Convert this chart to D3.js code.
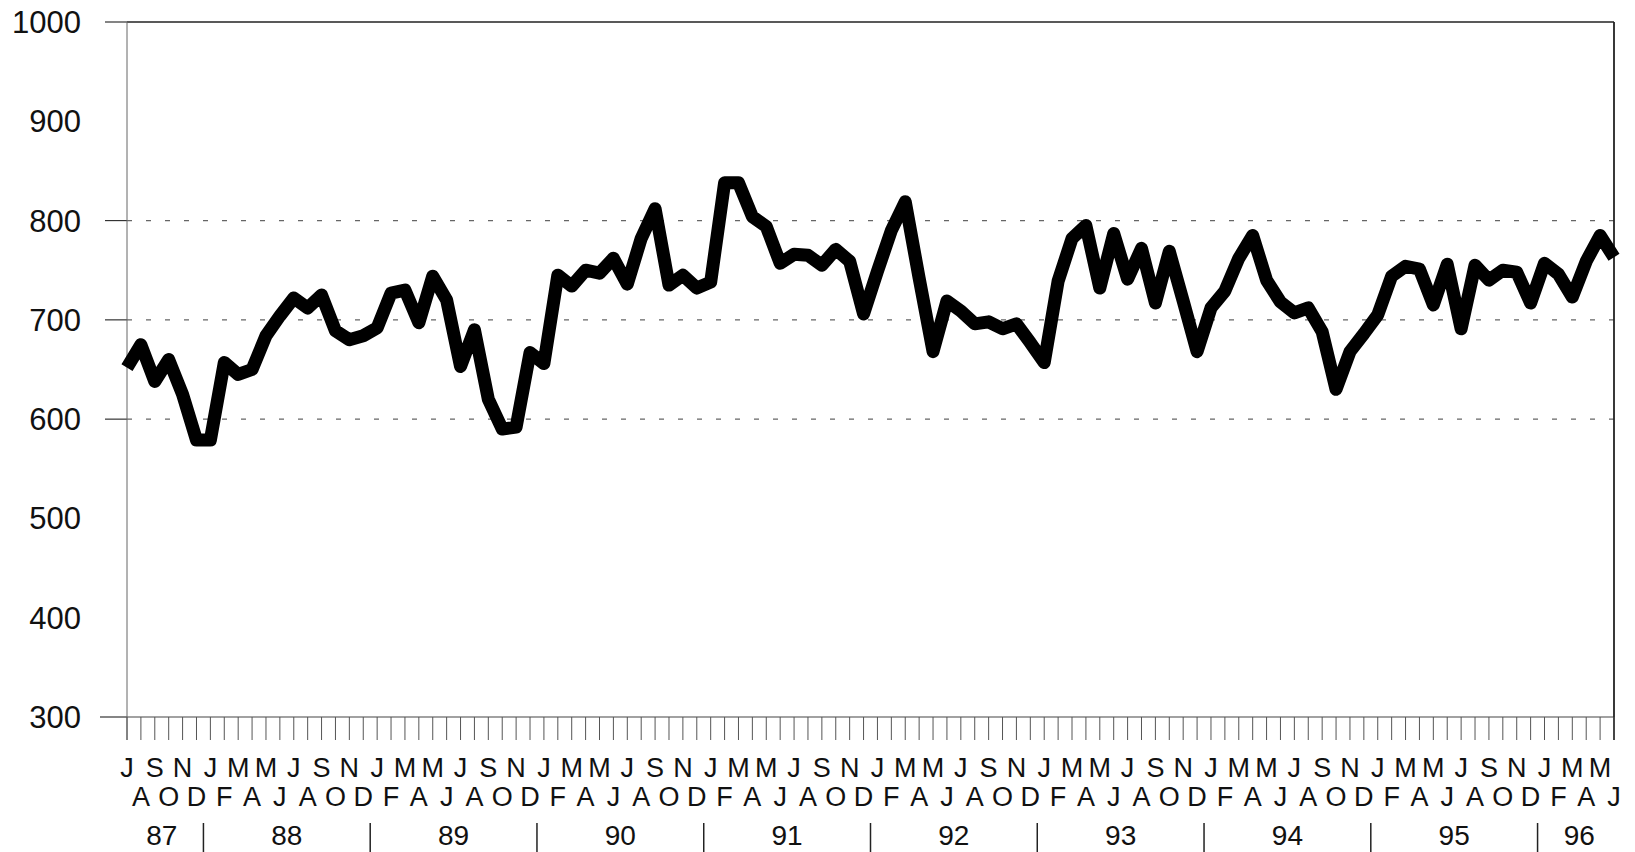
<!DOCTYPE html>
<meta charset="utf-8">
<style>
body { margin: 0; background: #fff; }
svg { display: block; }
text { font-family: "Liberation Sans", Arial, Helvetica, sans-serif; fill: #111; }
</style>
<svg width="1635" height="852"></svg>
<script src="https://d3js.org/d3.v7.min.js"></script>
<script>

// monthly values, Jul 1987 .. Jun 1996
var values = [
  652, 675, 638, 660, 625, 579,                                   // 87
  579, 657, 645, 650, 684, 704, 722, 712, 725, 689, 680, 684,    // 88
  692, 727, 730, 697, 744, 720, 653, 690, 620, 590, 592, 667,    // 89
  656, 745, 734, 750, 747, 762, 736, 782, 812, 735, 745, 732,    // 90
  738, 838, 838, 804, 794, 757, 766, 765, 755, 771, 759, 706,    // 91
  749, 790, 819, 742, 668, 719, 709, 696, 698, 691, 696, 677,    // 92
  657, 739, 782, 795, 732, 787, 741, 772, 717, 769, 719, 668,    // 93
  712, 729, 762, 785, 740, 718, 707, 712, 688, 630, 668, 686,    // 94
  705, 744, 754, 751, 715, 756, 691, 755, 740, 750, 748, 717,    // 95
  757, 746, 723, 759, 785, 763                                    // 96
];

var monthLetters = ["J","F","M","A","M","J","J","A","S","O","N","D"];
var startMonth = 6; // July
var years = ["87","88","89","90","91","92","93","94","95","96"];
var yTicks = [300, 400, 500, 600, 700, 800, 900, 1000];
var gridValues = [600, 700, 800];

var svg = d3.select("svg");

var x = d3.scaleLinear().domain([0, values.length - 1]).range([127, 1614]);
var y = d3.scaleLinear().domain([300, 1000]).range([717, 22]);

// dashed gridlines
svg.append("g").selectAll("line")
  .data(gridValues)
  .enter().append("line")
    .attr("x1", x(0)).attr("x2", x(values.length - 1))
    .attr("y1", function(d) { return y(d); })
    .attr("y2", function(d) { return y(d); })
    .attr("stroke", "#666")
    .attr("stroke-width", 1.2)
    .attr("stroke-dasharray", "5,14");

// short solid stubs left of the axis
svg.append("g").selectAll("line")
  .data([300, 600, 700, 800, 1000])
  .enter().append("line")
    .attr("x1", function(d) { return d == 300 ? 100 : 105; })
    .attr("x2", x(0))
    .attr("y1", function(d) { return y(d); })
    .attr("y2", function(d) { return y(d); })
    .attr("stroke", "#333")
    .attr("stroke-width", 1.2);

// frame: top, bottom, left, right
svg.append("line").attr("x1", x(0)).attr("x2", x(values.length - 1))
  .attr("y1", y(1000)).attr("y2", y(1000)).attr("stroke", "#222").attr("stroke-width", 1.5);
svg.append("line").attr("x1", x(0)).attr("x2", x(values.length - 1))
  .attr("y1", y(300)).attr("y2", y(300)).attr("stroke", "#444").attr("stroke-width", 1.2);
svg.append("line").attr("x1", x(0)).attr("x2", x(0))
  .attr("y1", y(1000)).attr("y2", 740).attr("stroke", "#666").attr("stroke-width", 1);
svg.append("line").attr("x1", x(values.length - 1)).attr("x2", x(values.length - 1))
  .attr("y1", y(1000)).attr("y2", 740).attr("stroke", "#222").attr("stroke-width", 1.8);

// y labels
svg.append("g").selectAll("text")
  .data(yTicks)
  .enter().append("text")
    .attr("x", 81)
    .attr("y", function(d) { return y(d) + 11; })
    .attr("text-anchor", "end")
    .style("font-size", "31px")
    .text(function(d) { return d; });

// month ticks
var idx = d3.range(values.length);
svg.append("g").selectAll("line")
  .data(idx)
  .enter().append("line")
    .attr("x1", function(d) { return x(d); })
    .attr("x2", function(d) { return x(d); })
    .attr("y1", y(300)).attr("y2", 740)
    .attr("stroke", "#555")
    .attr("stroke-width", 1);

// month letters, alternating rows
svg.append("g").selectAll("text")
  .data(idx)
  .enter().append("text")
    .attr("x", function(d) { return x(d); })
    .attr("y", function(d) { return d % 2 == 0 ? 777 : 806; })
    .attr("text-anchor", "middle")
    .style("font-size", "27px")
    .text(function(d) { return monthLetters[(startMonth + d) % 12]; });

// year labels and separators
var yearSpans = years.map(function(yr, k) {
  var first = k == 0 ? 0 : 6 + (k - 1) * 12;
  var last = Math.min(first + (k == 0 ? 5 : 11), values.length - 1);
  return {label: yr, first: first, last: last};
});

svg.append("g").selectAll("text")
  .data(yearSpans)
  .enter().append("text")
    .attr("x", function(d) { return x((d.first + d.last) / 2); })
    .attr("y", 845)
    .attr("text-anchor", "middle")
    .style("font-size", "28px")
    .text(function(d) { return d.label; });

svg.append("g").selectAll("line")
  .data(yearSpans.slice(1))
  .enter().append("line")
    .attr("x1", function(d) { return x(d.first - 0.5); })
    .attr("x2", function(d) { return x(d.first - 0.5); })
    .attr("y1", 823).attr("y2", 852)
    .attr("stroke", "#222")
    .attr("stroke-width", 1.5);

// the series
var line = d3.line()
  .x(function(d, i) { return x(i); })
  .y(function(d) { return y(d); });

svg.append("path")
  .datum(values)
  .attr("d", line)
  .attr("fill", "none")
  .attr("stroke", "#000")
  .attr("stroke-width", 13)
  .attr("stroke-linejoin", "round")
  .attr("stroke-linecap", "butt");

</script>
